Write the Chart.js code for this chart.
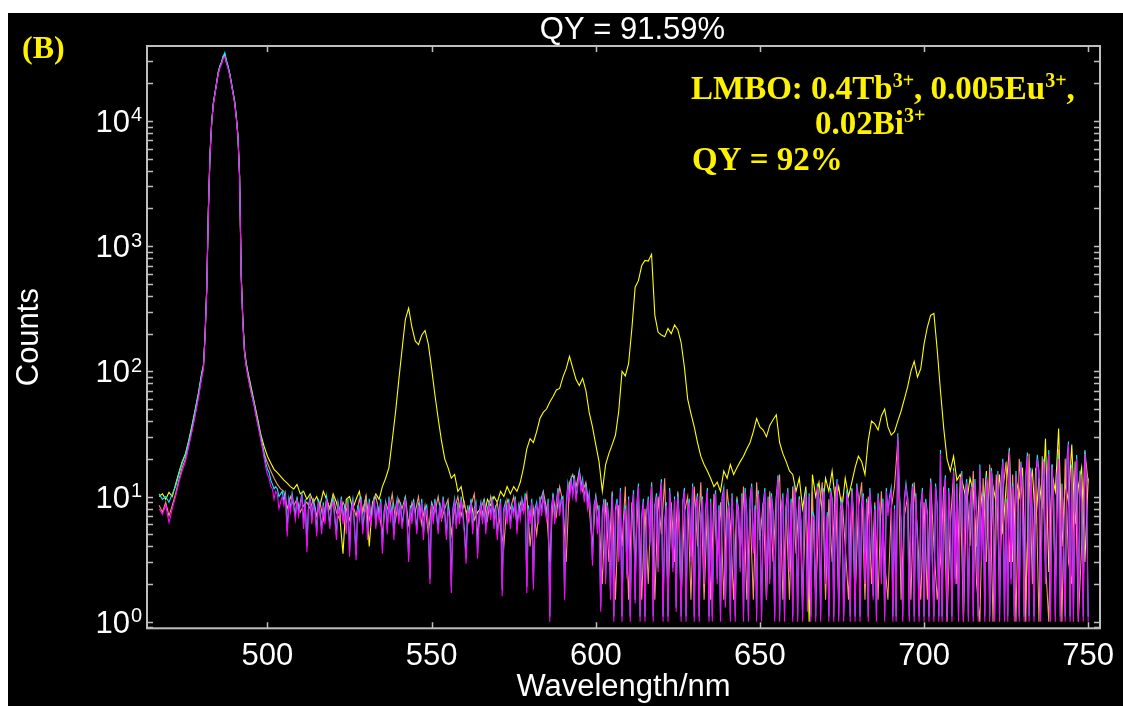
<!DOCTYPE html>
<html>
<head>
<meta charset="utf-8">
<script src="https://cdn.jsdelivr.net/npm/chart.js@4.4.1/dist/chart.umd.min.js"></script>
<style>
  html, body { margin: 0; padding: 0; background: #fff; width: 1123px; height: 706px; overflow: hidden; }
  #panel { position: absolute; left: 8px; top: 13px; width: 1115px; height: 693px; background: #000; }
  canvas { display: block; }
</style>
</head>
<body>
<div id="panel"><canvas id="spectrum" width="1115" height="693"></canvas></div>
<script>
// Coarse wavelength grid (nm): 1 nm steps, 0.5 nm across the excitation peak
const wavelength = [
  467, 468, 469, 470, 471, 472, 473, 474, 475, 476, 477, 478, 479, 480,
  480.5, 481, 481.5, 482, 482.5, 483, 483.5, 484, 484.5, 485, 485.5, 486, 486.5, 487,
  487.5, 488, 488.5, 489, 489.5, 490, 490.5, 491, 491.5, 492, 492.5, 493, 493.5, 494,
  495, 496, 497, 498, 499, 500, 501, 502, 503, 504,
  505, 506, 507, 508, 509, 510, 511, 512, 513, 514,
  515, 516, 517, 518, 519, 520, 521, 522, 523, 524,
  525, 526, 527, 528, 529, 530, 531, 532, 533, 534,
  535, 536, 537, 538, 539, 540, 541, 542, 543, 544,
  545, 546, 547, 548, 549, 550, 551, 552, 553, 554,
  555, 556, 557, 558, 559, 560, 561, 562, 563, 564,
  565, 566, 567, 568, 569, 570, 571, 572, 573, 574,
  575, 576, 577, 578, 579, 580, 581, 582, 583, 584,
  585, 586, 587, 588, 589, 590, 591, 592, 593, 594,
  595, 596, 597, 598, 599, 600, 601, 602, 603, 604,
  605, 606, 607, 608, 609, 610, 611, 612, 613, 614,
  615, 616, 617, 618, 619, 620, 621, 622, 623, 624,
  625, 626, 627, 628, 629, 630, 631, 632, 633, 634,
  635, 636, 637, 638, 639, 640, 641, 642, 643, 644,
  645, 646, 647, 648, 649, 650, 651, 652, 653, 654,
  655, 656, 657, 658, 659, 660, 661, 662, 663, 664,
  665, 666, 667, 668, 669, 670, 671, 672, 673, 674,
  675, 676, 677, 678, 679, 680, 681, 682, 683, 684,
  685, 686, 687, 688, 689, 690, 691, 692, 693, 694,
  695, 696, 697, 698, 699, 700, 701, 702, 703, 704,
  705, 706, 707, 708, 709, 710, 711, 712, 713, 714,
  715, 716, 717, 718, 719, 720, 721, 722, 723, 724,
  725, 726, 727, 728, 729, 730, 731, 732, 733, 734,
  735, 736, 737, 738, 739, 740, 741, 742, 743, 744,
  745, 746, 747, 748, 749, 750
];

// Fine wavelength grid (nm) for the reference scans: 0.5 nm above 495 nm
const fineWavelength = [
  467, 468, 469, 470, 471, 472, 473, 474, 475, 476, 477, 478, 479, 480,
  480.5, 481, 481.5, 482, 482.5, 483, 483.5, 484, 484.5, 485, 485.5, 486, 486.5, 487,
  487.5, 488, 488.5, 489, 489.5, 490, 490.5, 491, 491.5, 492, 492.5, 493, 493.5, 494,
  495, 495.5, 496, 496.5, 497, 497.5, 498, 498.5, 499, 499.5, 500, 500.5, 501, 501.5, 502, 502.5, 503, 503.5, 504, 504.5,
  505, 505.5, 506, 506.5, 507, 507.5, 508, 508.5, 509, 509.5, 510, 510.5, 511, 511.5, 512, 512.5, 513, 513.5, 514, 514.5,
  515, 515.5, 516, 516.5, 517, 517.5, 518, 518.5, 519, 519.5, 520, 520.5, 521, 521.5, 522, 522.5, 523, 523.5, 524, 524.5,
  525, 525.5, 526, 526.5, 527, 527.5, 528, 528.5, 529, 529.5, 530, 530.5, 531, 531.5, 532, 532.5, 533, 533.5, 534, 534.5,
  535, 535.5, 536, 536.5, 537, 537.5, 538, 538.5, 539, 539.5, 540, 540.5, 541, 541.5, 542, 542.5, 543, 543.5, 544, 544.5,
  545, 545.5, 546, 546.5, 547, 547.5, 548, 548.5, 549, 549.5, 550, 550.5, 551, 551.5, 552, 552.5, 553, 553.5, 554, 554.5,
  555, 555.5, 556, 556.5, 557, 557.5, 558, 558.5, 559, 559.5, 560, 560.5, 561, 561.5, 562, 562.5, 563, 563.5, 564, 564.5,
  565, 565.5, 566, 566.5, 567, 567.5, 568, 568.5, 569, 569.5, 570, 570.5, 571, 571.5, 572, 572.5, 573, 573.5, 574, 574.5,
  575, 575.5, 576, 576.5, 577, 577.5, 578, 578.5, 579, 579.5, 580, 580.5, 581, 581.5, 582, 582.5, 583, 583.5, 584, 584.5,
  585, 585.5, 586, 586.5, 587, 587.5, 588, 588.5, 589, 589.5, 590, 590.5, 591, 591.5, 592, 592.5, 593, 593.5, 594, 594.5,
  595, 595.5, 596, 596.5, 597, 597.5, 598, 598.5, 599, 599.5, 600, 600.5, 601, 601.5, 602, 602.5, 603, 603.5, 604, 604.5,
  605, 605.5, 606, 606.5, 607, 607.5, 608, 608.5, 609, 609.5, 610, 610.5, 611, 611.5, 612, 612.5, 613, 613.5, 614, 614.5,
  615, 615.5, 616, 616.5, 617, 617.5, 618, 618.5, 619, 619.5, 620, 620.5, 621, 621.5, 622, 622.5, 623, 623.5, 624, 624.5,
  625, 625.5, 626, 626.5, 627, 627.5, 628, 628.5, 629, 629.5, 630, 630.5, 631, 631.5, 632, 632.5, 633, 633.5, 634, 634.5,
  635, 635.5, 636, 636.5, 637, 637.5, 638, 638.5, 639, 639.5, 640, 640.5, 641, 641.5, 642, 642.5, 643, 643.5, 644, 644.5,
  645, 645.5, 646, 646.5, 647, 647.5, 648, 648.5, 649, 649.5, 650, 650.5, 651, 651.5, 652, 652.5, 653, 653.5, 654, 654.5,
  655, 655.5, 656, 656.5, 657, 657.5, 658, 658.5, 659, 659.5, 660, 660.5, 661, 661.5, 662, 662.5, 663, 663.5, 664, 664.5,
  665, 665.5, 666, 666.5, 667, 667.5, 668, 668.5, 669, 669.5, 670, 670.5, 671, 671.5, 672, 672.5, 673, 673.5, 674, 674.5,
  675, 675.5, 676, 676.5, 677, 677.5, 678, 678.5, 679, 679.5, 680, 680.5, 681, 681.5, 682, 682.5, 683, 683.5, 684, 684.5,
  685, 685.5, 686, 686.5, 687, 687.5, 688, 688.5, 689, 689.5, 690, 690.5, 691, 691.5, 692, 692.5, 693, 693.5, 694, 694.5,
  695, 695.5, 696, 696.5, 697, 697.5, 698, 698.5, 699, 699.5, 700, 700.5, 701, 701.5, 702, 702.5, 703, 703.5, 704, 704.5,
  705, 705.5, 706, 706.5, 707, 707.5, 708, 708.5, 709, 709.5, 710, 710.5, 711, 711.5, 712, 712.5, 713, 713.5, 714, 714.5,
  715, 715.5, 716, 716.5, 717, 717.5, 718, 718.5, 719, 719.5, 720, 720.5, 721, 721.5, 722, 722.5, 723, 723.5, 724, 724.5,
  725, 725.5, 726, 726.5, 727, 727.5, 728, 728.5, 729, 729.5, 730, 730.5, 731, 731.5, 732, 732.5, 733, 733.5, 734, 734.5,
  735, 735.5, 736, 736.5, 737, 737.5, 738, 738.5, 739, 739.5, 740, 740.5, 741, 741.5, 742, 742.5, 743, 743.5, 744, 744.5,
  745, 745.5, 746, 746.5, 747, 747.5, 748, 748.5, 749, 749.5, 750
];

// Sample emission (Tb3+/Eu3+ bands), on the coarse grid
const sampleCounts = [
  10, 10.5, 9.5, 10.8, 10, 12.5, 15.5, 19, 22, 28, 37, 50, 68, 98,
  112, 200, 470, 2000, 5500, 9800, 13900, 16800, 20300, 24600, 27500, 29500, 32900, 34000,
  30000, 27200, 23900, 20200, 17000, 14400, 10900, 7700, 3700, 600, 260, 150, 118, 100,
  75, 56, 42, 31, 25, 21, 18.5, 16.5, 15.5, 14.5,
  13.5, 12.8, 12, 11.5, 12.5, 10.5, 11, 9.5, 10.5, 9,
  10, 8.5, 11, 9.5, 8, 10.5, 9, 7, 3.5, 9.5,
  10, 8, 9.5, 11, 7.5, 10, 4, 9, 10.5, 9.5,
  12, 14, 17, 28, 47, 85, 150, 260, 320, 225,
  175, 163, 195, 212, 165, 105, 65, 42, 28, 20,
  17, 14, 15, 11, 12, 8.5, 7, 9, 6.5, 7.5,
  8, 7, 9.5, 8.5, 10, 9, 11, 10, 12, 10.5,
  12, 11, 13, 17, 24, 29, 27, 33, 42, 47,
  50, 57, 63, 71, 73, 90, 105, 132, 106, 86,
  77, 88, 70, 47, 36, 26, 19, 11, 18, 22,
  26, 31, 48, 100, 92, 115, 220, 470, 530, 700,
  770, 760, 860, 280, 205, 195, 189, 220, 200, 235,
  215, 170, 108, 60, 46, 36, 27, 21, 18, 16,
  14, 12, 13, 11, 16, 14, 18, 15, 17, 19,
  21, 24, 27, 33, 42, 36, 34, 30, 37, 41,
  45, 27, 22, 19, 16, 15, 11, 14, 8, 12,
  1, 15, 10, 13, 7.5, 14, 11, 16, 9, 12,
  8, 14, 10, 13, 17, 21, 19, 15, 28, 40,
  38, 34, 44, 50, 36, 31, 33, 40, 48, 60,
  75, 100, 120, 90, 105, 165, 225, 280, 290, 150,
  70, 35, 20, 16, 21, 13.5, 15, 12, 9, 14,
  11, 4, 13, 7, 16, 2, 12, 9, 15, 5,
  12, 24, 3, 14, 10, 17, 1.5, 12, 16, 6,
  14, 8, 29, 2.5, 15, 11, 35, 4, 13, 9,
  26, 6, 12, 17, 3, 14
];

// Reference scan A (fine grid)
const blankScanA = [
  8, 7.2, 8.5, 6.2, 8, 10, 13, 16, 19, 25, 33, 45, 62, 90,
  105, 190, 440, 1900, 5300, 9500, 13500, 16300, 19700, 23800, 26500, 28500, 31500, 32600,
  29000, 26300, 23200, 19600, 16500, 13900, 10500, 7400, 3500, 560, 240, 140, 110, 92,
  68, 60, 52, 44, 38, 33, 28, 24, 20, 17, 15, 14, 12, 11.5, 9.5, 11, 10.5, 8, 9, 10,
  8.5, 10, 4.8, 9, 7.5, 10, 8, 6.5, 9.5, 7, 8.5, 10, 5.5, 9, 3.6, 8, 9.5, 6, 8.5, 7.5,
  4.8, 9, 7, 5, 8.5, 6, 9.5, 7.5, 5.5, 8, 9, 6.5, 4.5, 8.5, 7, 9.5, 6, 8, 5, 9,
  3.3, 7.5, 9, 5.5, 3.1, 8, 6.5, 9.5, 5, 7, 8.5, 4.5, 9, 6, 7.5, 9.5, 5.5, 8, 6.5, 9,
  3.5, 7, 8.5, 5, 9.5, 6.5, 8, 4.5, 7.5, 9, 6, 8.5, 5.5, 7, 9.5, 6.5, 3, 8, 6, 9,
  7, 5, 8.5, 6.5, 9, 4.5, 7.5, 8, 5.5, 2, 8.5, 6, 9, 7, 5, 8.5, 6.5, 9.5, 7, 4.5,
  8, 6.5, 1.7, 7.5, 9, 5.5, 8.5, 6, 9.5, 7, 5, 2.9, 8, 6.5, 9, 5, 7.5, 8.5, 3.2, 7,
  8.5, 6, 9, 5, 7.5, 8.5, 6.5, 9.5, 5.5, 8, 4.5, 7, 9, 1.6, 7.5, 8.5, 6, 9, 5.5, 8,
  7, 9.5, 5, 8, 6.5, 9, 7.5, 10, 1.7, 8, 6, 9, 1.8, 7.5, 8.5, 6, 9.5, 7, 10, 8,
  6.5, 9, 1, 7.5, 10, 6, 8.5, 11, 7, 9, 9.5, 1.5, 8, 12, 9.5, 13, 10, 14, 9, 12,
  15, 11, 13, 9, 12, 8, 10, 6.5, 2.8, 8, 9.5, 5, 8, 1.2, 7, 9, 2, 8.5, 6, 1.5,
  10, 1, 7.5, 9, 3, 11, 1, 6, 8, 2.2, 9.5, 1, 7, 10.5, 1.4, 8, 12, 1, 6.5, 9,
  1, 7, 9.5, 4, 12, 1, 8, 10, 2.5, 9, 13, 1, 6, 8.5, 1, 11, 7, 2.5, 9.5, 1.2,
  10, 6, 1, 8.5, 11, 1, 7, 9, 3, 12, 1, 8, 10, 1, 6.5, 9.5, 2, 7.5, 11, 1,
  9, 1, 7, 10.5, 2, 8, 1, 9.5, 11, 1.3, 6, 8.5, 1, 10, 5, 1, 9, 7.5, 2.5, 10,
  1, 11, 7, 1, 9, 12, 3.5, 8, 1, 10.5, 6, 1, 8, 11, 1.5, 9.5, 2, 10, 7, 1,
  9, 14, 1, 7.5, 10, 1, 8, 11, 2.5, 9, 1, 12, 7, 1, 9.5, 6, 1, 8, 10.5, 1.2,
  10, 1, 7, 6.5, 1, 12, 9, 1, 8.5, 11, 2, 7, 1, 11, 9, 1, 8, 13, 1, 7.5,
  9, 1, 3, 10.5, 8, 1, 11, 7, 1, 12, 9.5, 1, 8, 10, 2, 9, 1, 11, 6.5, 1.5,
  8, 1, 10, 7, 2, 9, 1, 11, 7, 9.5, 11, 1, 8, 1, 30, 10, 6, 1, 9, 12,
  9, 1, 7.5, 12, 1, 10, 4, 1, 8, 11, 1, 9, 7, 1, 13, 3, 1, 12, 8, 1,
  22, 1, 9, 14, 1, 11, 6, 1, 16, 2, 12, 1, 9, 15, 1, 10, 13, 1, 8, 12,
  1, 13, 7, 1, 17, 3, 10, 1, 14, 9, 1, 16, 11, 1, 8, 15, 1, 12, 19, 1,
  9, 1, 23, 2, 12, 1, 15, 8, 1, 18, 11, 1, 14, 21, 1, 16, 6, 1, 13, 20,
  15, 1, 11, 19, 2, 14, 22, 1, 17, 9, 1, 14, 20, 1, 12, 4, 1, 18, 26, 1,
  17, 1, 12, 20, 1, 15, 9, 1, 22, 11, 1
];

// Reference scan B (fine grid)
const blankScanB = [
  10.5, 9.5, 10, 9, 10.5, 12, 15, 18.5, 21.5, 27.5, 36, 49, 67, 97,
  110, 198, 460, 1950, 5450, 9700, 13800, 16700, 20200, 24500, 27400, 29400, 32800, 35200,
  30500, 27500, 24000, 20300, 17100, 14300, 10800, 7600, 3650, 580, 250, 145, 114, 96,
  71, 63, 54.5, 46, 40, 34.5, 29.5, 25.5, 21.5, 18.5, 16.5, 15.5, 13.5, 12.5, 11.5, 12, 11.5, 10, 10.5, 11,
  9.2, 10.6, 5.3, 9.6, 8, 10.6, 8.5, 7, 10, 7.5, 9, 10.6, 6, 9.5, 4, 8.5, 10, 6.5, 9, 8,
  5.2, 9.6, 7.5, 5.4, 9, 6.4, 10, 8, 5.9, 8.5, 9.6, 7, 4.9, 9, 7.5, 10, 6.4, 8.5, 5.4, 9.6,
  3.6, 8, 9.6, 5.9, 3.4, 8.5, 7, 10, 5.4, 7.5, 9, 4.9, 9.6, 6.4, 8, 10, 5.9, 8.5, 7, 9.6,
  3.8, 7.5, 9, 5.4, 10, 7, 8.5, 4.9, 8, 9.6, 6.4, 9, 5.9, 7.5, 10, 7, 3.3, 8.5, 6.4, 9.6,
  7.5, 5.4, 9, 7, 9.6, 4.9, 8, 8.5, 5.9, 2.2, 9, 6.4, 9.6, 7.5, 5.4, 9, 7, 10, 7.5, 4.9,
  8.5, 7, 1.9, 8, 9.6, 5.9, 9, 6.4, 10, 7.5, 5.4, 3.2, 8.5, 7, 9.6, 5.4, 8, 9, 3.5, 7.5,
  9, 6.4, 9.6, 5.4, 8, 9, 7, 10, 5.9, 8.5, 4.9, 7.5, 9.6, 1.8, 8, 9, 6.4, 9.6, 5.9, 8.5,
  7.5, 10, 5.4, 8.5, 7, 9.6, 8, 10.6, 1.9, 8.5, 6.4, 9.6, 2, 8, 9, 6.4, 10, 7.5, 10.6, 8.5,
  7, 9.6, 1.1, 8, 10.6, 6.4, 9, 11.7, 7.5, 9.6, 10, 1.7, 8.5, 12.7, 10, 13.8, 10.6, 14.8, 9.6, 12.7,
  16, 11.7, 13.8, 9.6, 12.7, 8.5, 10.6, 7, 3.1, 8.5, 10, 5.4, 8.5, 1.3, 7.5, 9.6, 2.2, 9, 6.4, 1.7,
  10.6, 1.1, 8, 9.6, 3.3, 11.7, 1.1, 6.4, 8.5, 2.4, 10, 1.1, 7.5, 11.2, 1.5, 8.5, 12.7, 1.1, 7, 9.6,
  1.1, 7.5, 10, 4.3, 12.7, 1.1, 8.5, 10.6, 2.7, 9.6, 13.8, 1.1, 6.4, 9, 1.1, 11.7, 7.5, 2.7, 10, 1.3,
  10.6, 6.4, 1.1, 9, 11.7, 1.1, 7.5, 9.6, 3.3, 12.7, 1.1, 8.5, 10.6, 1.1, 7, 10, 2.2, 8, 11.7, 1.1,
  9.6, 1.1, 7.5, 11.2, 2.2, 8.5, 1.1, 10, 11.7, 1.4, 6.4, 9, 1.1, 10.6, 5.4, 1.1, 9.6, 8, 2.7, 10.6,
  1.1, 11.7, 7.5, 1.1, 9.6, 12.7, 3.8, 8.5, 1.1, 11.2, 6.4, 1.1, 8.5, 11.7, 1.6, 10, 2.2, 10.6, 7.5, 1.1,
  9.6, 14.8, 1.1, 8, 10.6, 1.1, 8.5, 11.7, 2.7, 9.6, 1.1, 12.7, 7.5, 1.1, 10, 6.4, 1.1, 8.5, 11.2, 1.3,
  10.6, 1.1, 7.5, 7, 1.1, 12.7, 9.6, 1.1, 9, 11.7, 2.2, 7.5, 1.1, 11.7, 9.6, 1.1, 8.5, 13.8, 1.1, 8,
  9.6, 1.1, 3.3, 11.2, 8.5, 1.1, 11.7, 7.5, 1.1, 12.7, 10, 1.1, 8.5, 10.6, 2.2, 9.6, 1.1, 11.7, 7, 1.6,
  8.5, 1.1, 10.6, 7.5, 2.2, 9.6, 1.1, 11.7, 7.5, 10, 11.7, 1.1, 8.5, 1.1, 32, 10.6, 6.4, 1.1, 9.6, 12.7,
  9.6, 1.1, 8, 12.7, 1.1, 10.6, 4.3, 1.1, 8.5, 11.7, 1.1, 9.6, 7.5, 1.1, 13.8, 3.3, 1.1, 12.7, 8.5, 1.1,
  23.5, 1.1, 9.6, 14.8, 1.1, 11.7, 6.4, 1.1, 17, 2.2, 12.7, 1.1, 9.6, 16, 1.1, 10.6, 13.8, 1.1, 8.5, 12.7,
  1.1, 13.8, 7.5, 1.1, 18, 3.3, 10.6, 1.1, 14.8, 9.6, 1.1, 17, 11.7, 1.1, 8.5, 16, 1.1, 12.7, 20, 1.1,
  9.6, 1.1, 24.5, 2.2, 12.7, 1.1, 16, 8.5, 1.1, 19, 11.7, 1.1, 14.8, 22.5, 1.1, 17, 6.4, 1.1, 13.8, 21.5,
  16, 1.1, 11.7, 20, 2.2, 14.8, 23.5, 1.1, 18, 9.6, 1.1, 14.8, 21.5, 1.1, 12.7, 4.3, 1.1, 19, 27.5, 1.1,
  18, 1.1, 12.7, 21.5, 1.1, 16, 9.6, 1.1, 23.5, 11.7, 1.1
];

// Reference scan C (coarse grid)
const blankScanC = [
  8.5, 7.5, 9, 7, 8.5, 10.5, 13.5, 17, 20, 26, 34, 46, 64, 93,
  107, 194, 450, 1920, 5350, 9600, 13600, 16500, 19900, 24000, 26800, 28800, 31800, 33000,
  29300, 26600, 23400, 19800, 16700, 14000, 10600, 7500, 3550, 565, 245, 142, 112, 94,
  69, 53, 39, 29, 22, 18.5, 16, 14, 12.5, 11.5,
  11, 8, 10, 8.5, 9.5, 7.5, 8.5, 9, 8, 9.5,
  7, 9, 6.5, 9.5, 8, 10, 7.5, 6.5, 9, 8,
  6.5, 8.5, 7, 9.5, 7.5, 10, 6.5, 8.5, 10, 7.5,
  5, 9, 7.5, 10.5, 6.5, 9.5, 8, 10, 6, 9,
  7.5, 10, 6, 8.5, 5, 9, 7.5, 10, 6.5, 8,
  9.5, 5, 8, 10, 7, 9, 6, 8.5, 10.5, 5,
  8, 9.5, 6.5, 10, 7.5, 9, 5.5, 4, 9.5, 8,
  10, 6, 9, 7.5, 10.5, 4, 8, 5, 9, 11,
  8, 3, 10, 7, 12, 9, 3, 13, 15, 12,
  16, 11, 13, 8, 4, 10, 7, 2, 9.5, 3,
  11, 1.5, 8.5, 4, 12, 1.5, 9, 3, 10.5, 1.5,
  8, 2, 13, 1.5, 10, 5, 14, 1.5, 9, 3,
  11, 1.5, 7.5, 10, 1.5, 12, 4, 13, 1.5, 8,
  1.5, 10.5, 3, 9, 1.5, 11.5, 6, 1.5, 10, 3.5,
  12, 1.5, 8, 1.5, 13, 4.5, 9, 1.5, 11, 3,
  10, 15, 1.5, 8.5, 1.5, 12, 3.5, 10, 1.5, 9,
  1.5, 11, 1.5, 7.5, 13, 1.5, 9.5, 3, 12, 1.5,
  10, 4, 1.5, 11.5, 1.5, 8, 13, 1.5, 10, 2,
  9, 1.5, 11, 3, 1.5, 8, 12, 28, 1.5, 7,
  10, 1.5, 13, 5, 1.5, 9, 1.5, 14, 4, 1.5,
  3, 12, 1, 6, 15, 2, 14, 1, 13, 4,
  16, 2, 1, 14, 3, 18, 1, 15, 2, 11,
  19, 3, 15, 1, 20, 9, 1, 22, 2, 17,
  1, 21, 3, 1, 18, 2, 24, 1, 20, 3,
  2, 19, 1, 4, 23, 13
];

const xTickValues = [500, 550, 600, 650, 700, 750];
const yTickExponents = [0, 1, 2, 3, 4];
const xAxisRange = [463.3, 753.6];
const yAxisRange = [0.886, 39700];

const chartTitle = 'QY = 91.59%';
const xAxisTitle = 'Wavelength/nm';
const yAxisTitle = 'Counts';
const panelTag = '(B)';

const SANS = '"Liberation Sans", Arial, Helvetica, sans-serif';
const SERIF = '"Liberation Serif", "Times New Roman", Times, serif';
const AXIS_COLOR = '#BEBEBE';
const NOTE_COLOR = '#FFF200';

// Composition note: each line is a list of [text, isSuperscript]
const noteLines = [
  { x: 683, y: 86, runs: [['LMBO: 0.4Tb', false], ['3+', true], [', 0.005Eu', false], ['3+', true], [',', false]] },
  { x: 807, y: 121, runs: [['0.02Bi', false], ['3+', true]] },
  { x: 684, y: 157, runs: [['QY = 92%', false]] }
];

const toPoints = (grid, values) => grid.map((w, i) => ({ x: w, y: values[i] }));

function minorLogTicks(min, max) {
  const out = [];
  for (let e = -1; e <= 5; e++) {
    for (let m = 1; m <= 9; m++) {
      const v = m * Math.pow(10, e);
      if (v >= min && v <= max) out.push(v);
    }
  }
  return out;
}

const framePlugin = {
  id: 'frameAndText',
  afterDraw(chart) {
    const { ctx, chartArea: a, scales } = chart;
    const xs = scales.x, ys = scales.y;
    ctx.save();

    // Box frame
    ctx.strokeStyle = AXIS_COLOR;
    ctx.lineWidth = 2;
    ctx.strokeRect(a.left, a.top, a.right - a.left, a.bottom - a.top);

    // Inward tick marks
    ctx.lineWidth = 1.5;
    ctx.beginPath();
    xTickValues.forEach(v => {
      const px = Math.round(xs.getPixelForValue(v)) + 0.5;
      ctx.moveTo(px, a.bottom); ctx.lineTo(px, a.bottom - 6);
      ctx.moveTo(px, a.top); ctx.lineTo(px, a.top + 6);
    });
    minorLogTicks(yAxisRange[0], yAxisRange[1]).forEach(v => {
      const py = Math.round(ys.getPixelForValue(v)) + 0.5;
      ctx.moveTo(a.left, py); ctx.lineTo(a.left + 6, py);
      ctx.moveTo(a.right, py); ctx.lineTo(a.right - 6, py);
    });
    ctx.stroke();

    // X tick labels
    ctx.fillStyle = '#FFFFFF';
    ctx.font = '31px ' + SANS;
    ctx.textAlign = 'center';
    ctx.textBaseline = 'alphabetic';
    xTickValues.forEach(v => {
      ctx.fillText(String(v), xs.getPixelForValue(v), a.bottom + 37);
    });

    // Y tick labels as powers of ten
    const baseFont = '31px ' + SANS;
    const supFont = '20px ' + SANS;
    const labelRight = a.left - 5;
    ctx.textAlign = 'left';
    yTickExponents.forEach(e => {
      const py = ys.getPixelForValue(Math.pow(10, e));
      ctx.font = supFont;
      const sw = ctx.measureText(String(e)).width;
      ctx.font = baseFont;
      const bw = ctx.measureText('10').width;
      const baseline = py + 11;
      ctx.fillText('10', labelRight - sw - 1 - bw, baseline);
      ctx.font = supFont;
      ctx.fillText(String(e), labelRight - sw, baseline - 10.5);
    });

    // Axis titles
    ctx.font = '31px ' + SANS;
    ctx.textAlign = 'center';
    ctx.fillText(xAxisTitle, (a.left + a.right) / 2, 683);
    ctx.save();
    ctx.translate(30, (a.top + a.bottom) / 2);
    ctx.rotate(-Math.PI / 2);
    ctx.fillText(yAxisTitle, 0, 0);
    ctx.restore();

    // Title above the frame
    ctx.fillText(chartTitle, 624.5, 26);

    // Panel tag
    ctx.fillStyle = NOTE_COLOR;
    ctx.textAlign = 'left';
    ctx.font = 'bold 32px ' + SERIF;
    ctx.fillText(panelTag, 14, 45);

    // Composition note
    const noteFont = 'bold 33px ' + SERIF;
    const noteSup = 'bold 20px ' + SERIF;
    noteLines.forEach(line => {
      let x = line.x;
      line.runs.forEach(([text, sup]) => {
        ctx.font = sup ? noteSup : noteFont;
        ctx.fillText(text, x, sup ? line.y - 12 : line.y);
        x += ctx.measureText(text).width;
      });
    });

    ctx.restore();
  }
};

const lineStyle = color => ({
  borderColor: color,
  backgroundColor: color,
  borderWidth: 1.1,
  pointRadius: 0,
  tension: 0,
  fill: false
});

new Chart(document.getElementById('spectrum'), {
  type: 'line',
  data: {
    datasets: [
      Object.assign({ label: 'Reference scan A', data: toPoints(fineWavelength, blankScanA) }, lineStyle('#FF00FF')),
      Object.assign({ label: 'Reference scan B', data: toPoints(fineWavelength, blankScanB) }, lineStyle('#00F0FF')),
      Object.assign({ label: 'Reference scan C', data: toPoints(wavelength, blankScanC) }, lineStyle('#FF9070')),
      Object.assign({ label: 'LMBO sample', data: toPoints(wavelength, sampleCounts) }, lineStyle('#FFFF00'))
    ]
  },
  options: {
    responsive: false,
    animation: false,
    devicePixelRatio: 1,
    layout: { padding: { top: 33, right: 23, left: 0, bottom: 0 } },
    plugins: {
      legend: { display: false },
      tooltip: { enabled: false },
      title: { display: false }
    },
    scales: {
      x: {
        type: 'linear',
        min: xAxisRange[0],
        max: xAxisRange[1],
        grid: { display: false },
        border: { display: false },
        ticks: { display: false },
        afterBuildTicks: s => { s.ticks = xTickValues.map(v => ({ value: v })); },
        afterFit: s => { s.height = 77.7; }
      },
      y: {
        type: 'logarithmic',
        min: yAxisRange[0],
        max: yAxisRange[1],
        grid: { display: false },
        border: { display: false },
        ticks: { display: false },
        afterBuildTicks: s => { s.ticks = yTickExponents.map(e => ({ value: Math.pow(10, e) })); },
        afterFit: s => { s.width = 139; }
      }
    }
  },
  plugins: [framePlugin]
});
</script>
</body>
</html>
